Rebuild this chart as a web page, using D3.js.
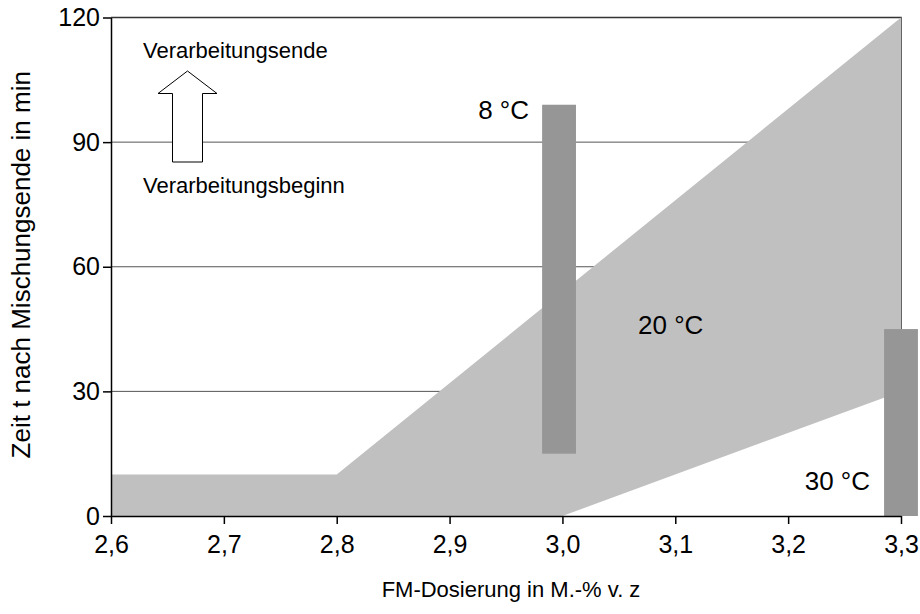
<!DOCTYPE html>
<html><head><meta charset="utf-8">
<script src="https://cdn.jsdelivr.net/npm/d3@7"></script>
<style>
html,body{margin:0;padding:0;background:#fff;}
svg{display:block;font-family:"Liberation Sans",Arial,sans-serif;}
</style></head>
<body><svg id="c" width="920" height="614"></svg>
<script>
// ---- data ----
const xTicks = [2.6, 2.7, 2.8, 2.9, 3.0, 3.1, 3.2, 3.3];
const xTickLabels = ["2,6", "2,7", "2,8", "2,9", "3,0", "3,1", "3,2", "3,3"];
const yTicks = [0, 30, 60, 90, 120];
const upperX = [2.6, 2.8, 3.3];
const upperY = [10, 10, 120];
const lowerX = [2.6, 3.0, 3.3];
const lowerY = [0, 0, 30];
const barLabels = ["8 °C", "30 °C"];
const barX = [2.997, 3.3];
const barLow = [15, 0];
const barHigh = [99, 45];
const bandLabel = "20 °C";
const xTitle = "FM-Dosierung in M.-% v. z";
const yTitle = "Zeit t nach Mischungsende in min";
const arrowTop = "Verarbeitungsende";
const arrowBottom = "Verarbeitungsbeginn";

// ---- layout ----
const svg = d3.select("#c");
const L = 111, R = 901, T = 17.5, B = 516;
const x = d3.scaleLinear().domain([2.6, 3.3]).range([L, R]);
const y = d3.scaleLinear().domain([0, 120]).range([B, T]);
const FT = 25, FA = 22, FY = 26, FL = 26;

// gridlines
svg.append("g").selectAll("line").data(yTicks.filter(d => d > 0 && d < 120)).join("line")
  .attr("x1", L).attr("x2", R).attr("y1", d => y(d)).attr("y2", d => y(d))
  .attr("stroke", "#555").attr("stroke-width", 1);

// frame top/right
svg.append("path").attr("d", `M${L},${y(120)}H${x(3.3)}V${B}`)
  .attr("fill", "none").attr("stroke", "#333").attr("stroke-width", 1.5);

// band
const pts = upperX.map((v, i) => [x(v), y(upperY[i])])
  .concat(lowerX.map((v, i) => [x(v), y(lowerY[i])]).reverse());
svg.append("path").attr("d", d3.line()(pts) + "Z").attr("fill", "#c0c0c0");

// bars
const bw = x(2.63) - x(2.6);
svg.append("g").selectAll("rect").data(barX).join("rect")
  .attr("x", d => x(d) - bw / 2).attr("width", bw)
  .attr("y", (d, i) => y(barHigh[i])).attr("height", (d, i) => y(barLow[i]) - y(barHigh[i]))
  .attr("fill", "#969696");

// axes
const xAxis = d3.axisBottom(x).tickValues(xTicks).tickFormat((d, i) => xTickLabels[i]).tickSize(8).tickSizeOuter(0);
const gx = svg.append("g").attr("transform", `translate(0,${B})`).call(xAxis);
gx.select(".domain").attr("stroke", "#000").attr("stroke-width", 1.5);
gx.selectAll(".tick line").attr("stroke", "#000").attr("stroke-width", 1.5);
gx.selectAll("text").attr("font-size", FT).attr("fill", "#000").attr("y", 13).attr("dy", "0.95em").attr("font-family", "Liberation Sans, Arial, sans-serif");

const yAxis = d3.axisLeft(y).tickValues(yTicks).tickSize(8).tickSizeOuter(0);
const gy = svg.append("g").attr("transform", `translate(${L},0)`).call(yAxis);
gy.select(".domain").attr("stroke", "#000").attr("stroke-width", 1.5);
gy.selectAll(".tick line").attr("stroke", "#000").attr("stroke-width", 1.5);
gy.selectAll("text").attr("font-size", FT).attr("fill", "#000").attr("x", -11).attr("font-family", "Liberation Sans, Arial, sans-serif");

// titles
svg.append("text").attr("x", (L + R) / 2 + 5).attr("y", 597).attr("text-anchor", "middle")
  .attr("font-size", FA).text(xTitle);
svg.append("text").attr("transform", `translate(30,${(T + B) / 2 - 2}) rotate(-90)`).attr("text-anchor", "middle")
  .attr("font-size", FY).text(yTitle);

// labels
svg.append("text").attr("x", x(2.997) - 30).attr("y", y(95.5)).attr("text-anchor", "end").attr("font-size", FL).text(barLabels[0]);
svg.append("text").attr("x", x(3.3) - 31).attr("y", y(6.3)).attr("text-anchor", "end").attr("font-size", FL).text(barLabels[1]);
svg.append("text").attr("x", x(3.067)).attr("y", y(43.7)).attr("font-size", FL).text(bandLabel);

// arrow annotation
svg.append("text").attr("x", 143).attr("y", 58).attr("font-size", FA).text(arrowTop);
svg.append("text").attr("x", 143).attr("y", 193).attr("font-size", FA).text(arrowBottom);
const ax = 187.5;
svg.append("path")
  .attr("d", `M${ax},71L${ax + 29.5},93.5H${ax + 15}V162H${ax - 15}V93.5H${ax - 29.5}Z`)
  .attr("fill", "#fff").attr("stroke", "#000").attr("stroke-width", 1);
</script></body></html>
